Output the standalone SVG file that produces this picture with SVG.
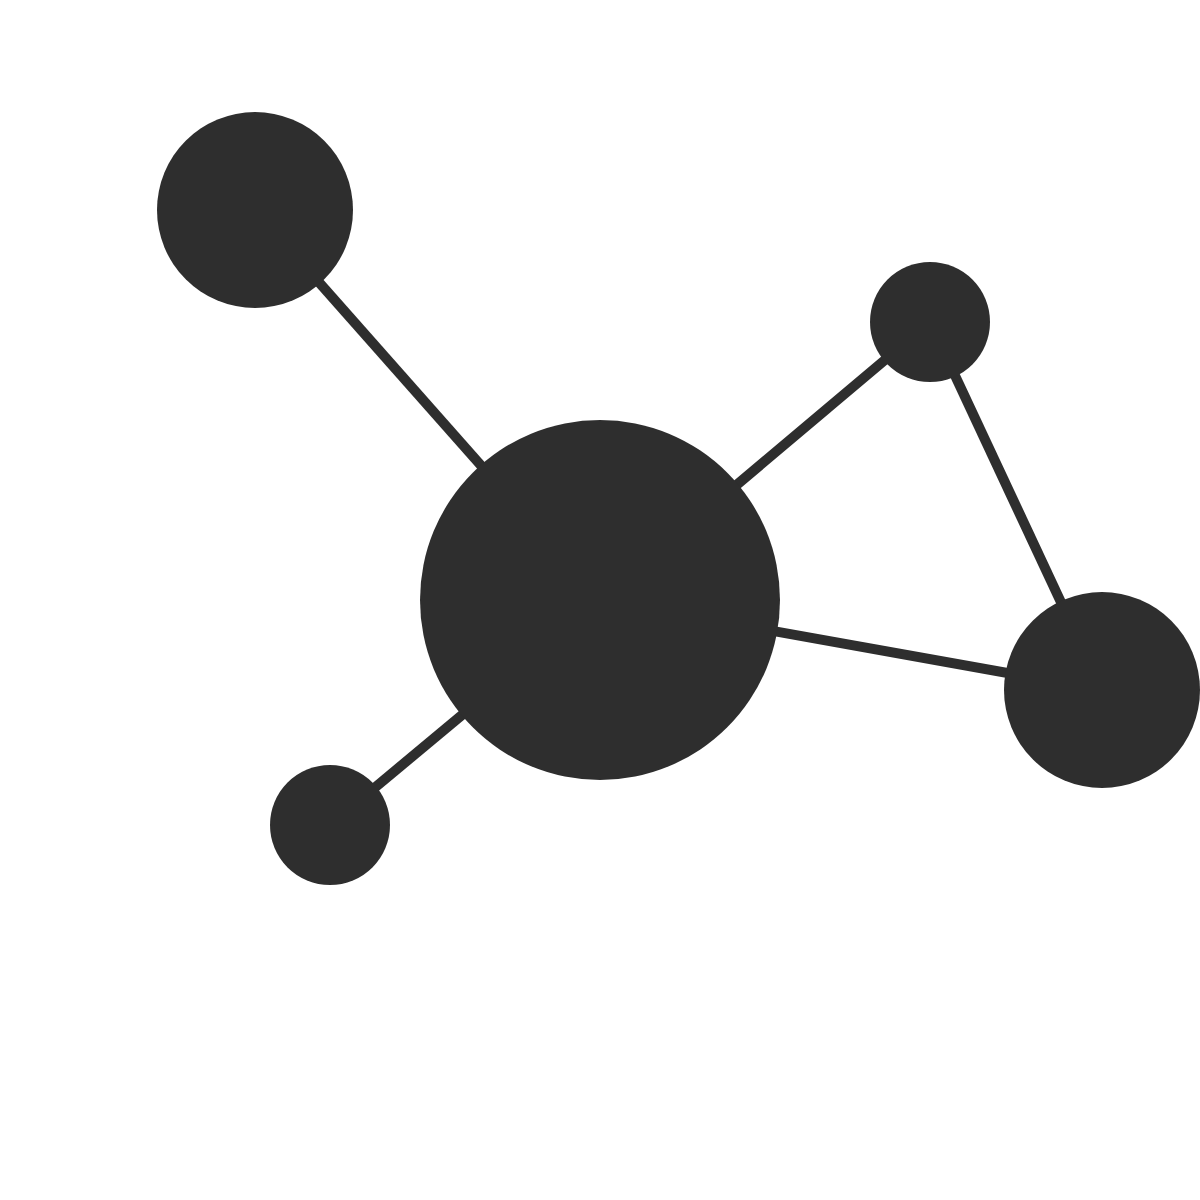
<svg xmlns="http://www.w3.org/2000/svg" width="1200" height="1200" viewBox="0 0 1200 1200">
<style>
.edge{stroke:#2e2e2e;stroke-width:10;fill:none}
.node{fill:#2e2e2e}
</style>
<rect width="1200" height="1200" fill="#ffffff"/>
<g id="connectors">
<line class="edge" x1="255" y1="210" x2="600" y2="600"/>
<line class="edge" x1="600" y1="600" x2="930" y2="322"/>
<line class="edge" x1="930" y1="322" x2="1102" y2="690"/>
<line class="edge" x1="600" y1="600" x2="1102" y2="690"/>
<line class="edge" x1="600" y1="600" x2="330" y2="825"/>
</g>
<g id="node-center"><circle class="node" cx="600" cy="600" r="180"/></g>
<g id="node-topleft"><circle class="node" cx="255" cy="210" r="98"/></g>
<g id="node-topright"><circle class="node" cx="930" cy="322" r="60"/></g>
<g id="node-right"><circle class="node" cx="1102" cy="690" r="98"/></g>
<g id="node-bottomleft"><circle class="node" cx="330" cy="825" r="60"/></g>
</svg>
